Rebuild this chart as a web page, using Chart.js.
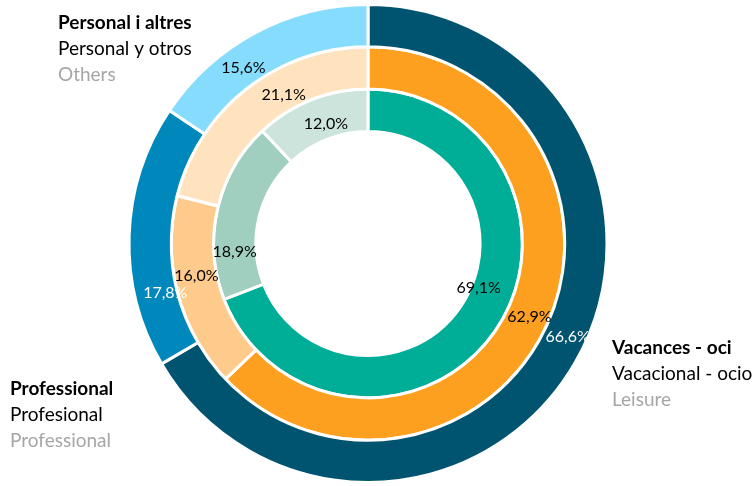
<!DOCTYPE html>
<html>
<head>
<meta charset="utf-8">
<script src="https://cdn.jsdelivr.net/npm/chart.js@4.4.0/dist/chart.umd.min.js"></script>
<style>
  html, body { margin: 0; padding: 0; background: #fff; }
  #wrap { width: 756px; height: 486px; }
</style>
</head>
<body>
<div id="wrap"><canvas id="ringChart" width="756" height="486"></canvas></div>
<script>
// categories, in drawing order (clockwise from the top)
const categories = ['Vacances - oci', 'Professional', 'Personal i altres'];

// one ring per series, outer ring first
const outerValues = [66.6, 17.8, 15.6];
const middleValues = [62.9, 16.0, 21.1];
const innerValues = [69.1, 18.9, 12.0];

// text printed next to the rings
const legendCa = ['Vacances - oci', 'Professional', 'Personal i altres'];
const legendEs = ['Vacacional - ocio', 'Profesional', 'Personal y otros'];
const legendEn = ['Leisure', 'Professional', 'Others'];

const FONT = 'Lato, "Open Sans", sans-serif';

// where each value label sits inside its slice (fraction along the arc, fraction across the ring)
const labelPlace = [
  { along: [0.48, 0.26, 0.37], across: [0.56, 0.28, 0.44], color: ['#fff', '#fff', '#000'] },
  { along: [0.505, 0.57, 0.61], across: [0.54, 0.48, 0.38], color: ['#000', '#000', '#000'] },
  { along: [0.45, 0.26, 0.55], across: [0.17, 0.51, 0.34], color: ['#000', '#000', '#000'] }
];

// category text blocks: [x, first baseline]
const legendPlace = [
  [612, 354],
  [10, 395],
  [58, 29]
];

const valueLabels = {
  id: 'valueLabels',
  afterDatasetsDraw(chart) {
    const ctx = chart.ctx;
    ctx.save();
    ctx.font = '16px ' + FONT;
    ctx.textAlign = 'center';
    ctx.textBaseline = 'middle';
    chart.data.datasets.forEach((ds, di) => {
      const meta = chart.getDatasetMeta(di);
      const place = labelPlace[di];
      meta.data.forEach((arc, i) => {
        const p = arc.getProps(['x', 'y', 'startAngle', 'endAngle', 'innerRadius', 'outerRadius'], true);
        const a = p.startAngle + (p.endAngle - p.startAngle) * place.along[i];
        const r = p.innerRadius + (p.outerRadius - p.innerRadius) * place.across[i];
        ctx.fillStyle = place.color[i];
        ctx.fillText(ds.data[i].toFixed(1).replace('.', ',') + '%', p.x + Math.cos(a) * r, p.y + Math.sin(a) * r);
      });
    });
    ctx.restore();
  }
};

const categoryText = {
  id: 'categoryText',
  afterDraw(chart) {
    const ctx = chart.ctx;
    ctx.save();
    ctx.textAlign = 'left';
    ctx.textBaseline = 'alphabetic';
    categories.forEach((c, i) => {
      const [x, y] = legendPlace[i];
      ctx.font = 'bold 19px ' + FONT;
      ctx.fillStyle = '#000';
      ctx.fillText(legendCa[i], x, y);
      ctx.font = '19px ' + FONT;
      ctx.fillText(legendEs[i], x, y + 26);
      ctx.fillStyle = '#a6a6a6';
      ctx.fillText(legendEn[i], x, y + 52);
    });
    ctx.restore();
  }
};

const ctx = document.getElementById('ringChart').getContext('2d');

new Chart(ctx, {
  type: 'doughnut',
  data: {
    labels: categories,
    datasets: [
      {
        label: 'Outer',
        data: outerValues,
        backgroundColor: ['#005470', '#0088bd', '#86dcfd']
      },
      {
        label: 'Middle',
        data: middleValues,
        backgroundColor: ['#fea01f', '#ffcb8c', '#ffe2be']
      },
      {
        label: 'Inner',
        data: innerValues,
        backgroundColor: ['#00ae97', '#a0cfbf', '#cde4dd']
      }
    ]
  },
  options: {
    responsive: false,
    animation: false,
    cutout: '46.9%',
    layout: { padding: { left: 0, right: 20, top: 3, bottom: 2 } },
    elements: {
      arc: { borderColor: '#fff', borderWidth: 3, hoverOffset: 0, offset: 0 }
    },
    plugins: {
      legend: { display: false },
      tooltip: { enabled: false }
    }
  },
  plugins: [valueLabels, categoryText]
});
</script>
</body>
</html>
